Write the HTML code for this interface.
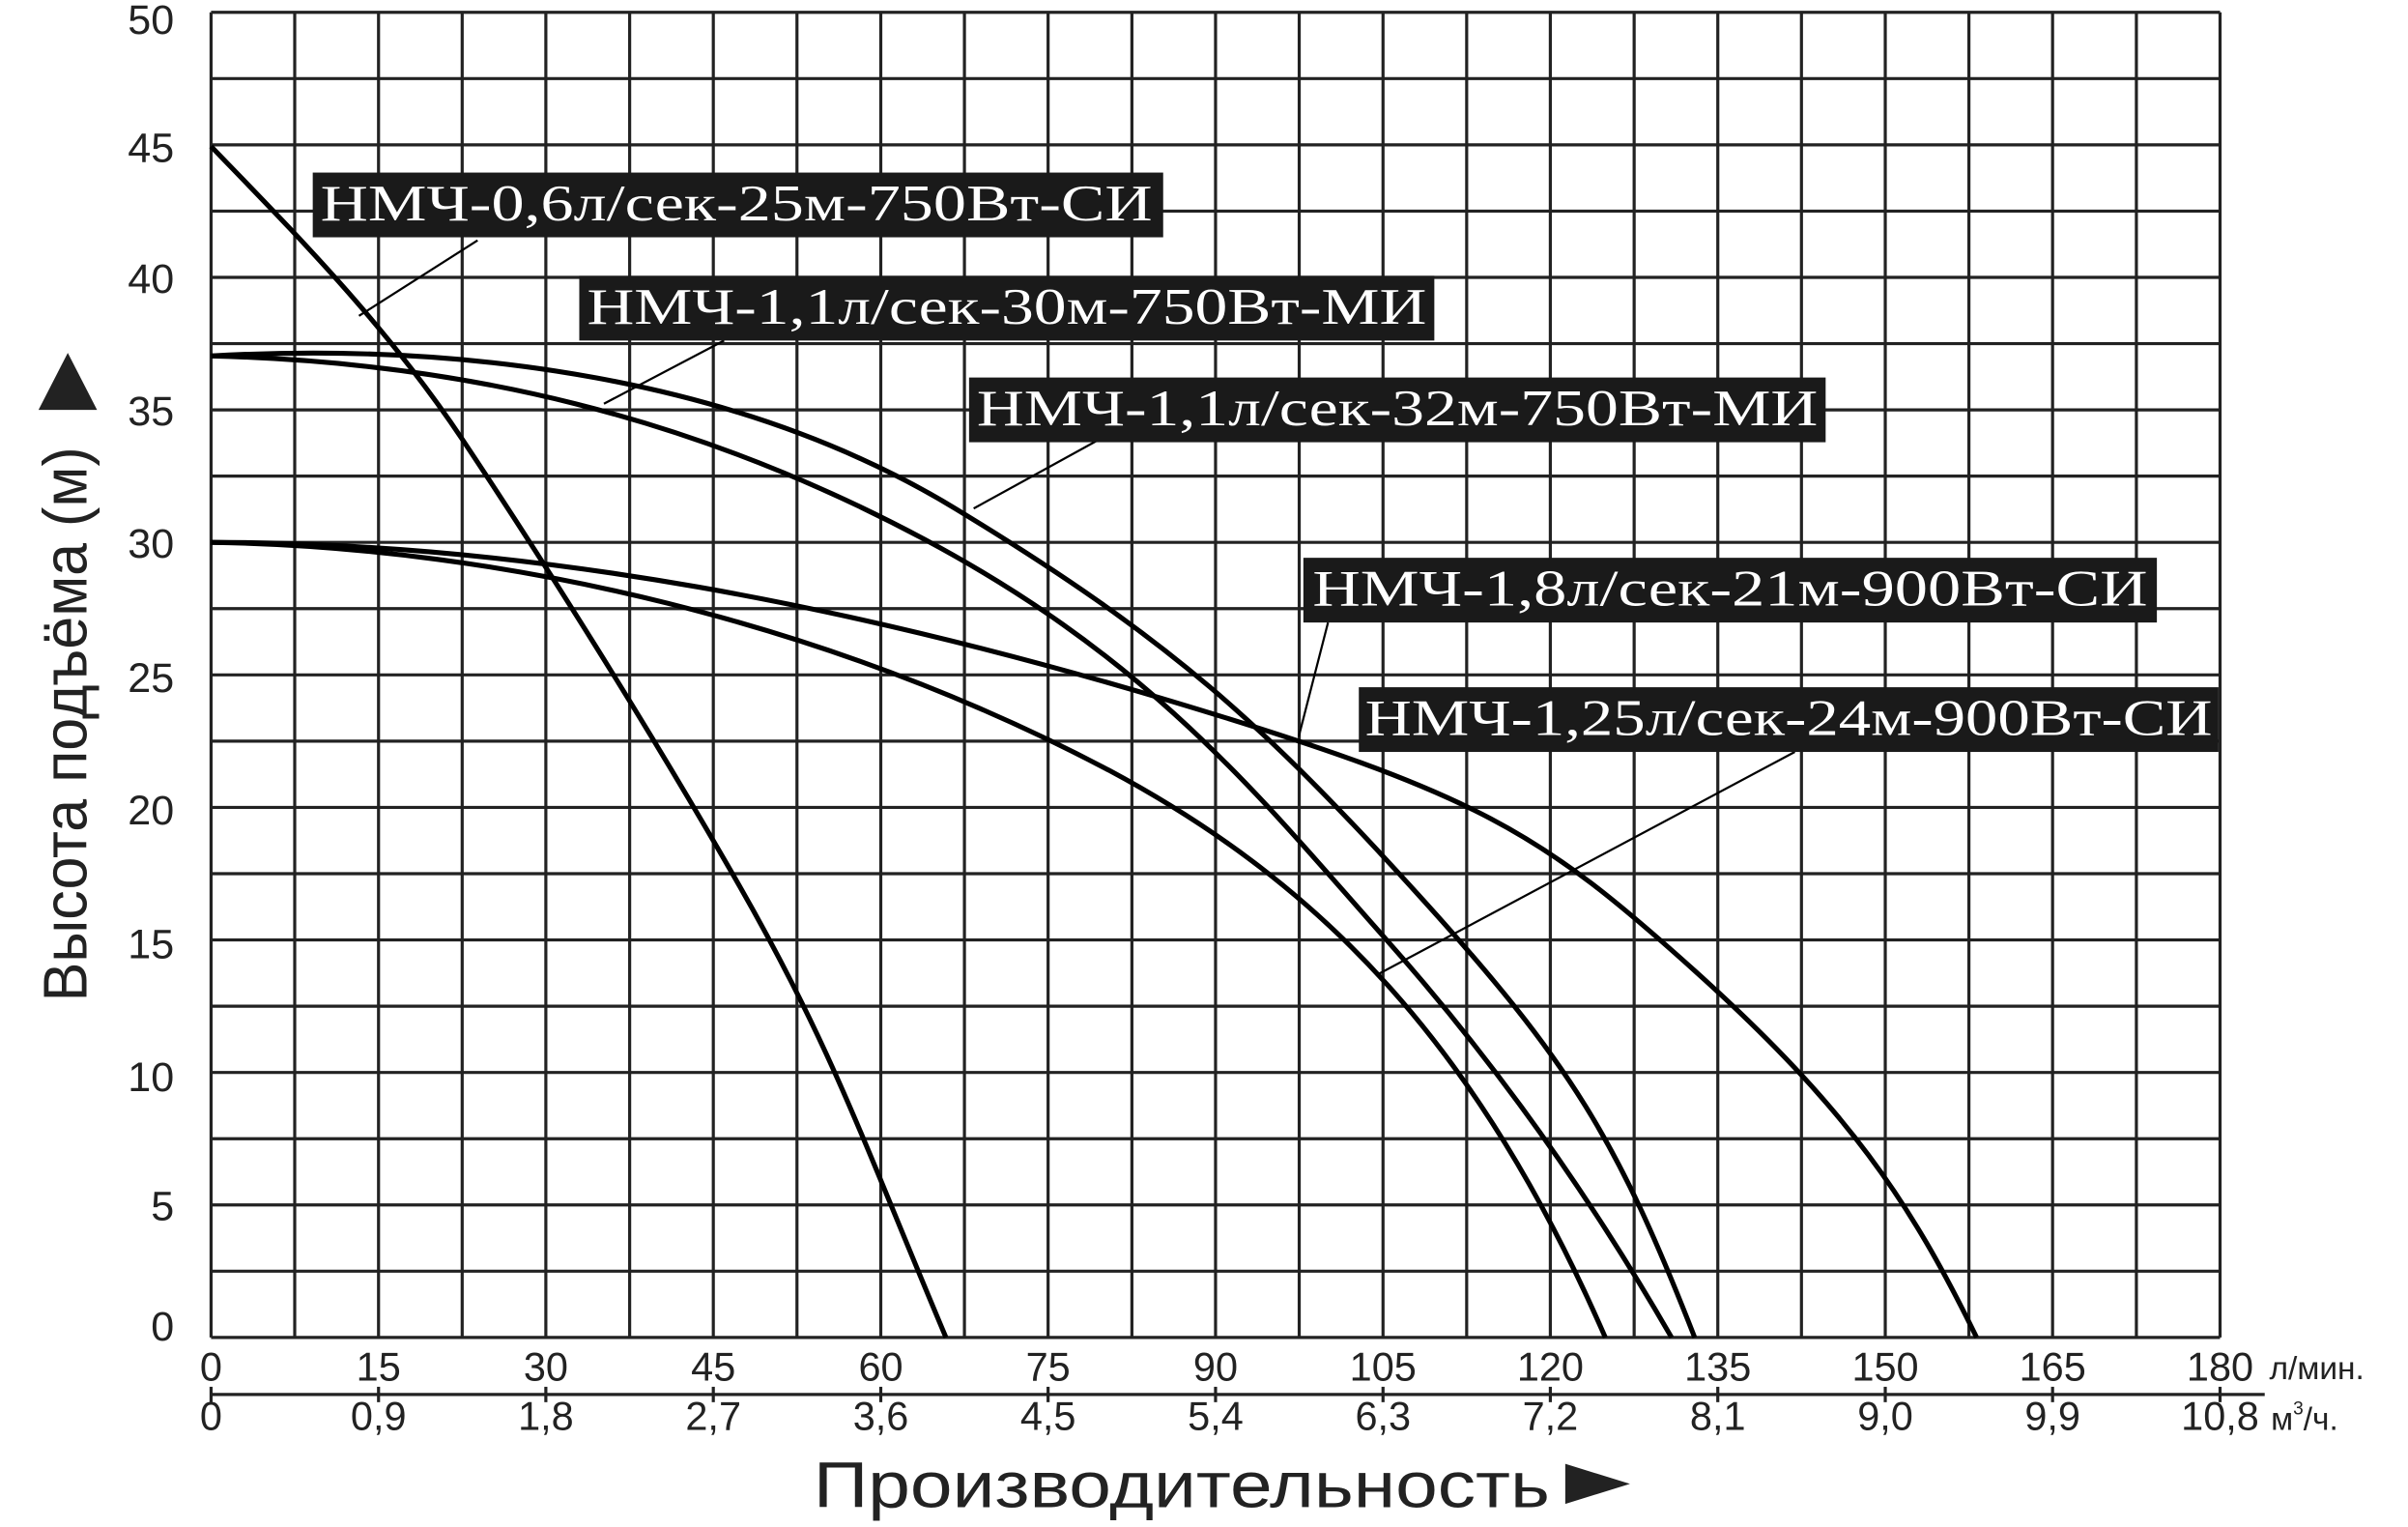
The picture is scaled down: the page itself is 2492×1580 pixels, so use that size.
<!DOCTYPE html>
<html><head><meta charset="utf-8"><style>
html,body{margin:0;padding:0;background:#fff;width:2492px;height:1580px;overflow:hidden}
svg{display:block}
</style></head><body>
<svg width="2492" height="1580" viewBox="0 0 1563 991" preserveAspectRatio="none" xmlns="http://www.w3.org/2000/svg">
<g stroke="#222" stroke-width="2">
<line x1="137" y1="8" x2="137" y2="868"/><line x1="191.3" y1="8" x2="191.3" y2="868"/><line x1="245.7" y1="8" x2="245.7" y2="868"/><line x1="300" y1="8" x2="300" y2="868"/><line x1="354.3" y1="8" x2="354.3" y2="868"/><line x1="408.7" y1="8" x2="408.7" y2="868"/><line x1="463" y1="8" x2="463" y2="868"/><line x1="517.3" y1="8" x2="517.3" y2="868"/><line x1="571.7" y1="8" x2="571.7" y2="868"/><line x1="626" y1="8" x2="626" y2="868"/><line x1="680.3" y1="8" x2="680.3" y2="868"/><line x1="734.7" y1="8" x2="734.7" y2="868"/><line x1="789" y1="8" x2="789" y2="868"/><line x1="843.3" y1="8" x2="843.3" y2="868"/><line x1="897.7" y1="8" x2="897.7" y2="868"/><line x1="952" y1="8" x2="952" y2="868"/><line x1="1006.3" y1="8" x2="1006.3" y2="868"/><line x1="1060.7" y1="8" x2="1060.7" y2="868"/><line x1="1115" y1="8" x2="1115" y2="868"/><line x1="1169.3" y1="8" x2="1169.3" y2="868"/><line x1="1223.7" y1="8" x2="1223.7" y2="868"/><line x1="1278" y1="8" x2="1278" y2="868"/><line x1="1332.3" y1="8" x2="1332.3" y2="868"/><line x1="1386.7" y1="8" x2="1386.7" y2="868"/><line x1="1441" y1="8" x2="1441" y2="868"/>
<line x1="137" y1="8" x2="1441" y2="8"/><line x1="137" y1="51" x2="1441" y2="51"/><line x1="137" y1="94" x2="1441" y2="94"/><line x1="137" y1="137" x2="1441" y2="137"/><line x1="137" y1="180" x2="1441" y2="180"/><line x1="137" y1="223" x2="1441" y2="223"/><line x1="137" y1="266" x2="1441" y2="266"/><line x1="137" y1="309" x2="1441" y2="309"/><line x1="137" y1="352" x2="1441" y2="352"/><line x1="137" y1="395" x2="1441" y2="395"/><line x1="137" y1="438" x2="1441" y2="438"/><line x1="137" y1="481" x2="1441" y2="481"/><line x1="137" y1="524" x2="1441" y2="524"/><line x1="137" y1="567" x2="1441" y2="567"/><line x1="137" y1="610" x2="1441" y2="610"/><line x1="137" y1="653" x2="1441" y2="653"/><line x1="137" y1="696" x2="1441" y2="696"/><line x1="137" y1="739" x2="1441" y2="739"/><line x1="137" y1="782" x2="1441" y2="782"/><line x1="137" y1="825" x2="1441" y2="825"/><line x1="137" y1="868" x2="1441" y2="868"/>
<line x1="137" y1="905" x2="1470" y2="905"/>
</g>
<g stroke="#222" stroke-width="2">
<line x1="137" y1="900" x2="137" y2="910"/><line x1="245.7" y1="900" x2="245.7" y2="910"/><line x1="354.3" y1="900" x2="354.3" y2="910"/><line x1="463" y1="900" x2="463" y2="910"/><line x1="571.7" y1="900" x2="571.7" y2="910"/><line x1="680.3" y1="900" x2="680.3" y2="910"/><line x1="789" y1="900" x2="789" y2="910"/><line x1="897.7" y1="900" x2="897.7" y2="910"/><line x1="1006.3" y1="900" x2="1006.3" y2="910"/><line x1="1115" y1="900" x2="1115" y2="910"/><line x1="1223.7" y1="900" x2="1223.7" y2="910"/><line x1="1332.3" y1="900" x2="1332.3" y2="910"/><line x1="1441" y1="900" x2="1441" y2="910"/>
</g>
<g stroke="#000" stroke-width="3.2" fill="none" stroke-linejoin="round">
<path d="M137,95 C190,150 250,210 300,285 S420,470 480,575 S560,740 614,868"/>
<path d="M137,231 C300,222 480,245 620,330 S820,470 920,580 S1050,740 1100,868"/>
<path d="M137,231 C300,235 450,270 600,350 S820,520 900,610 S1040,790 1085,868"/>
<path d="M137,352 C350,352 560,395 760,455 S1000,540 1100,630 S1240,780 1283,868"/>
<path d="M137,352 C330,355 540,405 720,500 C860,575 960,680 1042,868"/>
</g>
<g stroke="#000" stroke-width="1.4">
<line x1="310" y1="156" x2="233" y2="205"/>
<line x1="470" y1="221" x2="392" y2="262"/>
<line x1="712" y1="286" x2="632" y2="330"/>
<line x1="862" y1="404" x2="843" y2="478"/>
<line x1="1165" y1="488" x2="895" y2="632"/>
</g>
<g font-family="Liberation Serif, serif" font-size="33" fill="#fff">
<rect x="203" y="112" width="552" height="42" fill="#1a1a1a"/>
<text x="208" y="143" textLength="540" lengthAdjust="spacingAndGlyphs">НМЧ-0,6л/сек-25м-750Вт-СИ</text>
<rect x="376" y="179" width="555" height="42" fill="#1a1a1a"/>
<text x="381" y="210" textLength="545" lengthAdjust="spacingAndGlyphs">НМЧ-1,1л/сек-30м-750Вт-МИ</text>
<rect x="629" y="245" width="556" height="42" fill="#1a1a1a"/>
<text x="634" y="276" textLength="546" lengthAdjust="spacingAndGlyphs">НМЧ-1,1л/сек-32м-750Вт-МИ</text>
<rect x="846" y="362" width="554" height="42" fill="#1a1a1a"/>
<text x="852" y="393" textLength="542" lengthAdjust="spacingAndGlyphs">НМЧ-1,8л/сек-21м-900Вт-СИ</text>
<rect x="882" y="446" width="558" height="42" fill="#1a1a1a"/>
<text x="886" y="477" textLength="550" lengthAdjust="spacingAndGlyphs">НМЧ-1,25л/сек-24м-900Вт-СИ</text>
</g>
<g font-family="Liberation Sans, sans-serif" font-size="27" fill="#222" text-anchor="end">
<text x="113" y="22">50</text><text x="113" y="105">45</text><text x="113" y="190">40</text><text x="113" y="276">35</text><text x="113" y="362">30</text><text x="113" y="449">25</text><text x="113" y="535">20</text><text x="113" y="622">15</text><text x="113" y="708">10</text><text x="113" y="792">5</text><text x="113" y="870">0</text>
</g>
<g font-family="Liberation Sans, sans-serif" font-size="26" fill="#222" text-anchor="middle">
<text x="137" y="896">0</text><text x="245.7" y="896">15</text><text x="354.3" y="896">30</text><text x="463" y="896">45</text><text x="571.7" y="896">60</text><text x="680.3" y="896">75</text><text x="789" y="896">90</text><text x="897.7" y="896">105</text><text x="1006.3" y="896">120</text><text x="1115" y="896">135</text><text x="1223.7" y="896">150</text><text x="1332.3" y="896">165</text><text x="1441" y="896">180</text>
<text x="137" y="928">0</text><text x="245.7" y="928">0,9</text><text x="354.3" y="928">1,8</text><text x="463" y="928">2,7</text><text x="571.7" y="928">3,6</text><text x="680.3" y="928">4,5</text><text x="789" y="928">5,4</text><text x="897.7" y="928">6,3</text><text x="1006.3" y="928">7,2</text><text x="1115" y="928">8,1</text><text x="1223.7" y="928">9,0</text><text x="1332.3" y="928">9,9</text><text x="1441" y="928">10,8</text>
</g>
<g font-family="Liberation Sans, sans-serif" font-size="21" fill="#222">
<text x="1473" y="895">л/мин.</text>
<text x="1474" y="928">м<tspan font-size="12" dy="-10">3</tspan><tspan dy="10">/ч.</tspan></text>
</g>
<text x="528" y="978" font-family="Liberation Sans, sans-serif" font-size="42" fill="#222" textLength="478" lengthAdjust="spacingAndGlyphs">Производительность</text>
<polygon points="1016,950 1016,976 1058,963" fill="#222"/>
<g transform="translate(56,470) rotate(-90)">
<text x="0" y="0" font-family="Liberation Sans, sans-serif" font-size="40" fill="#222" text-anchor="middle" textLength="360" lengthAdjust="spacingAndGlyphs">Высота подъёма (м)</text>
</g>
<polygon points="25,266 63,266 44,229" fill="#222"/>
</svg>
</body></html>
